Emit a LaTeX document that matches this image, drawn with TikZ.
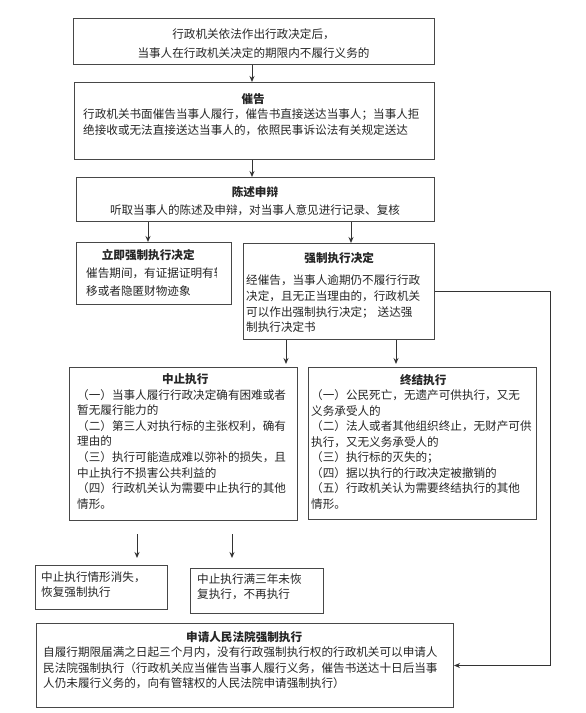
\documentclass[tikz,border=0pt]{standalone}
\usepackage{fontspec}
\setmainfont{Noto Sans CJK SC}
\usetikzlibrary{arrows.meta,calc}
\newcommand\boxtitle[1]{\makebox[\linewidth]{\bfseries #1}}
\begin{document}
\begin{tikzpicture}[x=1pt,y=-1pt,
  box/.style={draw=black!72,line width=1pt,rectangle,inner sep=0pt,anchor=north west},
  txt/.style={inner sep=0pt,anchor=base west,align=left,text=black!85,font=\fontsize{11.6}{15.6}\selectfont},
  arr/.style={draw=black!80,line width=1pt,-{Stealth[length=6pt,width=5pt]}}
]
\useasboundingbox (0,0) rectangle (586,713);
\fill[white] (0,0) rectangle (586,713);

% boxes
\node[box,minimum width=361pt,minimum height=46pt] (b1) at (73,18) {};
\node[box,minimum width=360pt,minimum height=77pt] (b2) at (74,82) {};
\node[box,minimum width=358pt,minimum height=44pt] (b3) at (76,177) {};
\node[box,minimum width=155pt,minimum height=62pt] (b4) at (76,242) {};
\node[box,minimum width=191pt,minimum height=96pt] (b5) at (243,243) {};
\node[box,minimum width=228pt,minimum height=153pt] (b6) at (69,367) {};
\node[box,minimum width=228pt,minimum height=152pt] (b7) at (308,367) {};
\node[box,minimum width=132pt,minimum height=44pt] (b8) at (35,565) {};
\node[box,minimum width=133pt,minimum height=45pt] (b9) at (190,568) {};
\node[box,minimum width=417pt,minimum height=84pt] (b10) at (36,623) {};

% texts
\node[txt,anchor=base,align=center,text width=350pt,font=\fontsize{11.6}{19}\selectfont] (t1) at (253.5,38.4)
  {行政机关依法作出行政决定后，\\当事人在行政机关决定的期限内不履行义务的};
\node[txt,text width=340pt,font=\fontsize{11.6}{15.3}\selectfont] (t2) at (83,103.4)
  {\boxtitle{催告}\\行政机关书面催告当事人履行，催告书直接送达当事人；当事人拒\\绝接收或无法直接送达当事人的，依照民事诉讼法有关规定送达};
\node[txt,anchor=base,align=center,text width=350pt,font=\fontsize{11.6}{18}\selectfont] (t3) at (255,196.4)
  {\textbf{陈述申辩}\\听取当事人的陈述及申辩，对当事人意见进行记录、复核};
\begin{scope}
  \clip (76,242) rectangle (216,304);
  \node[txt,text width=124pt,font=\fontsize{11.6}{18}\selectfont] (t4) at (86,259.4)
    {\boxtitle{立即强制执行决定}\\催告期间，有证据证明有转\\移或者隐匿财物迹象};
\end{scope}
\node[txt,text width=186pt,font=\fontsize{11.6}{15.8}\selectfont] (t5) at (246,262.4)
  {\boxtitle{强制执行决定}\\[6.2pt]经催告，当事人逾期仍不履行行政\\决定，且无正当理由的，行政机关\\可以作出强制执行决定； 送达强\\制执行决定书};
\node[txt,text width=216pt] (t6) at (77,383.4)
  {\boxtitle{中止执行}\\（一）当事人履行行政决定确有困难或者\\暂无履行能力的\\（二）第三人对执行标的主张权利，确有\\理由的\\（三）执行可能造成难以弥补的损失，且\\中止执行不损害公共利益的\\（四）行政机关认为需要中止执行的其他\\情形。};
\node[txt,text width=224pt,font=\fontsize{11.6}{15.5}\selectfont] (t7) at (311,384.4)
  {\boxtitle{终结执行}\\（一）公民死亡，无遗产可供执行，又无\\义务承受人的\\（二）法人或者其他组织终止，无财产可供\\执行，又无义务承受人的\\（三）执行标的灭失的；\\（四）据以执行的行政决定被撤销的\\（五）行政机关认为需要终结执行的其他\\情形。};
\node[txt,text width=122pt,font=\fontsize{11.6}{15}\selectfont] (t8) at (41,581.4)
  {中止执行情形消失，\\恢复强制执行};
\node[txt,text width=122pt,font=\fontsize{11.6}{15}\selectfont] (t9) at (197,583.4)
  {中止执行满三年未恢\\复执行，不再执行};
\node[txt,text width=402pt,font=\fontsize{11.6}{15.3}\selectfont] (t10) at (43,641.4)
  {\boxtitle{申请人民法院强制执行}\\自履行期限届满之日起三个月内，没有行政强制执行权的行政机关可以申请人\\民法院强制执行（行政机关应当催告当事人履行义务，催告书送达十日后当事\\人仍未履行义务的，向有管辖权的人民法院申请强制执行）};

% connectors
\coordinate (xm) at (252,0);
\coordinate (xa) at (148,0);
\coordinate (xb) at (351,0);
\coordinate (xc) at (286,0);
\coordinate (xd) at (396,0);
\coordinate (xr) at (550,0);
\coordinate (s1) at (137,534);
\coordinate (s2) at (232,534);

\draw[arr] (b1.south -| xm) -- (b2.north -| xm);
\draw[arr] (b2.south -| xm) -- (b3.north -| xm);
\draw[arr] (b3.south -| xa) -- (b4.north -| xa);
\draw[arr] (b3.south -| xb) -- (b5.north -| xb);
\draw[arr,shorten >=3pt] (b5.south -| xc) -- (b6.north -| xc);
\draw[arr,shorten >=3pt] (b5.south -| xd) -- (b7.north -| xd);
\draw[arr] (b5.east) -- (xr |- b5.east) -- (xr |- b10.east) -- (b10.east);
\draw[arr,shorten >=7pt] (s1) -- (s1 |- b8.north);
\draw[arr,shorten >=10pt] (s2) -- (s2 |- b9.north);
\end{tikzpicture}
\end{document}
